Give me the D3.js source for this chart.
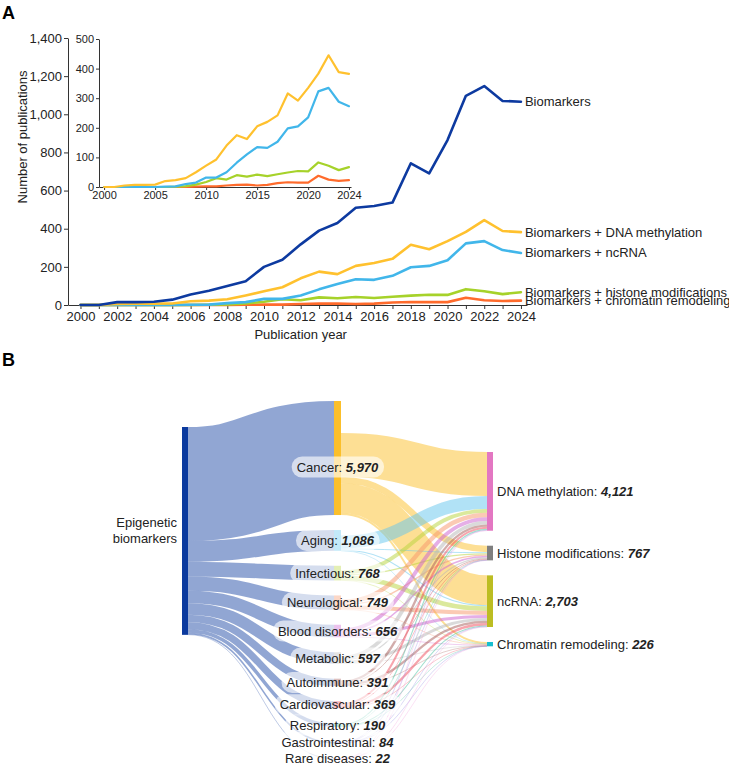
<!DOCTYPE html>
<html>
<head>
<meta charset="utf-8">
<style>
    body { margin: 0; background: #fff; }
    svg { font-family: "Liberation Sans", Arial, sans-serif; }
    .line { fill: none; stroke-linejoin: round; stroke-linecap: round; }
    .axis path, .axis line { stroke: #333; }
    .axis text { fill: #222; }
</style>
</head>
<body>
<svg id="chart" width="729" height="769"></svg>
<script src="https://cdnjs.cloudflare.com/ajax/libs/d3/7.8.5/d3.min.js"></script>
<script>
// ---- panel A data (publications per year) ----
const years = [2000, 2001, 2002, 2003, 2004, 2005, 2006, 2007, 2008, 2009, 2010, 2011, 2012,
    2013, 2014, 2015, 2016, 2017, 2018, 2019, 2020, 2021, 2022, 2023, 2024]
const biomarkers = [0, 0, 15, 15, 17, 28, 55, 75, 100, 125, 200, 237, 318, 390, 430, 510, 519, 537, 743, 690, 865, 1097, 1148, 1070, 1066]
const dnaMethylation = [0, 0, 5, 7, 7, 8, 20, 23, 30, 50, 72, 93, 140, 175, 162, 205, 220, 242, 316, 292, 335, 383, 445, 388, 382]
const ncRNA = [0, 0, 0, 0, 0, 0, 1, 2, 10, 15, 32, 32, 50, 82, 110, 135, 132, 153, 198, 205, 235, 323, 335, 288, 273]
const histoneMods = [0, 0, 0, 0, 0, 0, 0, 1, 3, 8, 17, 30, 25, 40, 35, 42, 37, 43, 49, 54, 53, 83, 72, 57, 67]
const chromatinRemod = [0, 0, 0, 0, 0, 0, 0, 0, 0, 1, 2, 2, 5, 7, 8, 5, 7, 13, 16, 15, 15, 38, 25, 21, 23]
const yTicks = [0, 200, 400, 600, 800, 1000, 1200, 1400]
const insetYTicks = [0, 100, 200, 300, 400, 500]
const insetXTicks = [2000, 2005, 2010, 2015, 2020, 2024]

// ---- panel B data (sankey) ----
const sourceName = ["Epigenetic", "biomarkers"]
const diseases = ["Cancer", "Aging", "Infectious", "Neurological", "Blood disorders", "Metabolic",
    "Autoimmune", "Cardiovascular", "Respiratory", "Gastrointestinal", "Rare diseases"]
const diseaseTotals = [5970, 1086, 768, 749, 656, 597, 391, 369, 190, 84, 22]
const methods = ["DNA methylation", "Histone modifications", "ncRNA", "Chromatin remodeling"]
const methodTotals = [4121, 767, 2703, 226]
// estimated flows disease -> method (same order as diseases)
const toDNA = [2300, 680, 200, 230, 200, 190, 120, 103, 60, 30, 8]
const toHistone = [340, 50, 70, 70, 79, 60, 40, 35, 15, 6, 2]
const toNcRNA = [1560, 60, 240, 210, 160, 150, 120, 120, 54, 25, 4]
const toChromatin = [100, 10, 15, 23, 30, 15, 12, 12, 6, 2, 1]

const svg = d3.select("#chart")
const fmt = d3.format(",")

// panel letters
svg.append("text").attr("x", 2).attr("y", 19).attr("font-size", 18).attr("font-weight", "bold").text("A")
svg.append("text").attr("x", 2).attr("y", 366).attr("font-size", 18).attr("font-weight", "bold").text("B")

// ================= Panel A: main line chart =================
let series = [
    { name: "Biomarkers", values: biomarkers, color: "#0d3aa0" },
    { name: "Biomarkers + DNA methylation", values: dnaMethylation, color: "#ffc12e" },
    { name: "Biomarkers + ncRNA", values: ncRNA, color: "#41b6ea" },
    { name: "Biomarkers + histone modifications", values: histoneMods, color: "#a6d22a" },
    { name: "Biomarkers + chromatin remodeling", values: chromatinRemod, color: "#ff6b2c" }
]

let xScale = d3.scaleLinear().domain([1999.32, 2024.33]).range([68, 527])
let yScale = d3.scaleLinear().domain([0, 1400]).range([305, 38])

svg.append("g").attr("class", "axis")
    .attr("transform", "translate(68,0)")
    .call(d3.axisLeft(yScale).tickValues(yTicks).tickFormat(fmt).tickSize(4).tickSizeOuter(0).tickPadding(2))
    .selectAll("text").attr("font-size", 13)

svg.append("g").attr("class", "axis")
    .attr("transform", "translate(0,305)")
    .call(d3.axisBottom(xScale).tickValues(years).tickFormat(d => d % 2 === 0 ? d : "").tickSize(4).tickSizeOuter(0))
    .selectAll("text").attr("font-size", 13)

svg.selectAll(".axis").attr("font-family", null)

let valueline = d3.line()
    .x((d, i) => xScale(years[i]))
    .y(d => yScale(d))

svg.append("g").selectAll("path")
    .data(series.slice().reverse())
    .join("path")
    .attr("class", "line")
    .attr("stroke", d => d.color)
    .attr("stroke-width", 2.6)
    .attr("d", d => valueline(d.values))

svg.append("g").selectAll("text")
    .data(series)
    .join("text")
    .attr("x", xScale(2024) + 4)
    .attr("y", d => yScale(d.values[d.values.length - 1]))
    .attr("dy", "0.35em")
    .attr("font-size", 13)
    .attr("fill", "#222")
    .text(d => d.name)

svg.append("text")
    .attr("transform", "translate(27,137) rotate(-90)")
    .attr("text-anchor", "middle")
    .attr("font-size", 13)
    .attr("fill", "#222")
    .text("Number of publications")

svg.append("text")
    .attr("x", (xScale(2000) + xScale(2024)) / 2)
    .attr("y", 339)
    .attr("text-anchor", "middle")
    .attr("font-size", 13)
    .attr("fill", "#222")
    .text("Publication year")

// ---- inset ----
let xIn = d3.scaleLinear().domain([1999.5, 2024.2]).range([99, 351])
let yIn = d3.scaleLinear().domain([0, 500]).range([187, 39])

svg.append("g").attr("class", "axis")
    .attr("transform", "translate(99,0)")
    .call(d3.axisLeft(yIn).tickValues(insetYTicks).tickSize(3).tickSizeOuter(0).tickPadding(2))
    .selectAll("text").attr("font-size", 11)

svg.append("g").attr("class", "axis")
    .attr("transform", "translate(0,187)")
    .call(d3.axisBottom(xIn).tickValues(insetXTicks).tickFormat(d3.format("d")).tickSize(3).tickSizeOuter(0).tickPadding(1))
    .selectAll("text").attr("font-size", 11)

svg.selectAll(".axis").attr("font-family", null)

let insetLine = d3.line()
    .x((d, i) => xIn(years[i]))
    .y(d => yIn(d))

svg.append("g").selectAll("path")
    .data(series.slice(1).reverse())
    .join("path")
    .attr("class", "line")
    .attr("stroke", d => d.color)
    .attr("stroke-width", 2.2)
    .attr("d", d => insetLine(d.values))

// ================= Panel B: sankey =================
const k = 0.0191   // px per publication
const gap = 15
const leftColor = "#0b3a9e"
const diseaseColors = ["#fbbf2a", "#63c6ee", "#b7d43a", "#f7956a", "#cc5fcf", "#b5b5b5",
    "#a65a55", "#ef4c5c", "#45c0a0", "#8a7fe0", "#f29ad9"]
const methodColors = ["#e377c2", "#7f7f7f", "#bcbd22", "#17becf"]
const flows = [toDNA, toHistone, toNcRNA, toChromatin]

// columns
let leftNode = { x0: 182, x1: 188, y0: 427 }
leftNode.y1 = leftNode.y0 + d3.sum(diseaseTotals) * k

let y = 401
let diseaseNodes = diseases.map((name, i) => {
    let n = { name: name, value: diseaseTotals[i], color: diseaseColors[i], x0: 334, x1: 341, y0: y }
    n.y1 = y + n.value * k
    y = n.y1 + gap
    return n
})

y = 452
let methodNodes = methods.map((name, i) => {
    let n = { name: name, value: methodTotals[i], color: methodColors[i], x0: 487, x1: 493, y0: y }
    n.y1 = y + n.value * k
    n.fill = n.y0
    y = n.y1 + gap
    return n
})

// left -> disease links
let links1 = []
let ly = leftNode.y0
diseaseNodes.forEach(n => {
    let w = n.value * k
    links1.push({ sx: leftNode.x1, sy: ly + w / 2, tx: n.x0, ty: n.y0 + w / 2, w: w })
    ly += w
})

// disease -> method links (outflow stacked to the bottom of each disease node)
let links2 = []
diseaseNodes.forEach((n, i) => {
    let out = d3.sum(flows, f => f[i]) * k
    let sy = n.y1 - out
    flows.forEach((f, j) => {
        let w = f[i] * k
        let m = methodNodes[j]
        links2.push({ sx: n.x1, sy: sy + w / 2, tx: m.x0, ty: m.fill + w / 2, w: w, color: n.color })
        sy += w
        m.fill += w
    })
})

let linkPath = d3.linkHorizontal()
    .source(d => [d.sx, d.sy])
    .target(d => [d.tx, d.ty])

svg.append("g").selectAll("path")
    .data(links1)
    .join("path")
    .attr("d", linkPath)
    .attr("fill", "none")
    .attr("stroke", leftColor)
    .attr("stroke-opacity", 0.45)
    .attr("stroke-width", d => Math.max(0.6, d.w))

svg.append("g").selectAll("path")
    .data(links2)
    .join("path")
    .attr("d", linkPath)
    .attr("fill", "none")
    .attr("stroke", d => d.color)
    .attr("stroke-opacity", 0.5)
    .attr("stroke-width", d => Math.max(0.6, d.w))

// nodes
svg.append("rect")
    .attr("x", leftNode.x0).attr("y", leftNode.y0)
    .attr("width", leftNode.x1 - leftNode.x0).attr("height", leftNode.y1 - leftNode.y0)
    .attr("fill", leftColor)

svg.append("g").selectAll("rect")
    .data(diseaseNodes.concat(methodNodes))
    .join("rect")
    .attr("x", d => d.x0).attr("y", d => d.y0)
    .attr("width", d => d.x1 - d.x0).attr("height", d => Math.max(0.5, d.y1 - d.y0))
    .attr("fill", d => d.color)

// source label
svg.append("g").selectAll("text")
    .data(sourceName)
    .join("text")
    .attr("x", leftNode.x0 - 5)
    .attr("y", (d, i) => (leftNode.y0 + leftNode.y1) / 2 + (i === 0 ? -8 : 8))
    .attr("dy", "0.35em")
    .attr("text-anchor", "end")
    .attr("font-size", 13)
    .attr("fill", "#222")
    .text(d => d)

function addLabel(g, d) {
    let t = g.append("text")
        .attr("dy", "0.35em")
        .attr("font-size", 13)
        .attr("fill", "#222")
    t.append("tspan").text(d.name + ": ")
    t.append("tspan").attr("font-weight", "bold").attr("font-style", "italic").text(fmt(d.value))
    return t
}

// disease labels with pill backgrounds
diseaseNodes.forEach((d, i) => {
    let cy = (d.y0 + d.y1) / 2 + (i === 0 ? 9 : 0)   // cancer label sits a little lower
    let g = svg.append("g").attr("transform", `translate(${(d.x0 + d.x1) / 2},${cy})`)
    let t = addLabel(g, d).attr("text-anchor", "middle")
    let b = t.node().getBBox()
    g.insert("rect", "text")
        .attr("x", b.x - 5).attr("y", -10.5)
        .attr("width", b.width + 10).attr("height", 21)
        .attr("rx", 10.5)
        .attr("fill", "#fff")
        .attr("fill-opacity", 0.62)
})

// method labels
methodNodes.forEach(d => {
    let g = svg.append("g").attr("transform", `translate(${d.x1 + 4},${(d.y0 + d.y1) / 2})`)
    addLabel(g, d)
})
</script>
</body>
</html>
